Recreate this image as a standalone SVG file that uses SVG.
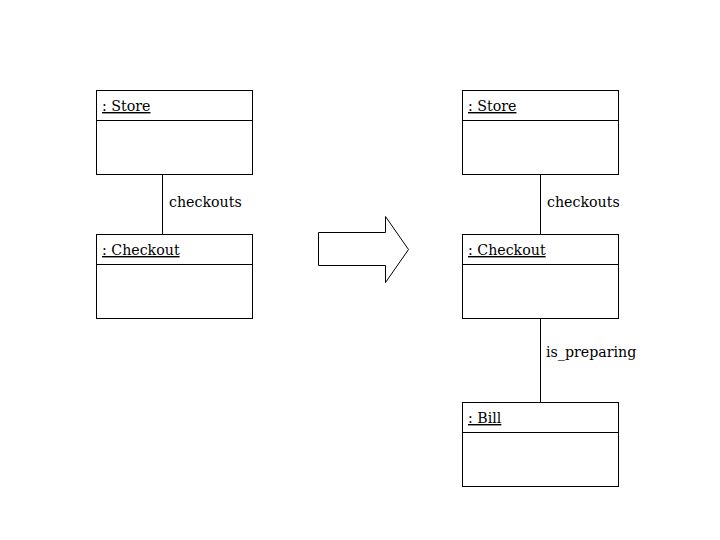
<svg xmlns="http://www.w3.org/2000/svg" width="720" height="540" viewBox="0 0 720 540">
<style>
.box{fill:#fff;stroke:#000;stroke-width:1}
.t{font-family:'DejaVu Serif','Liberation Serif',serif;font-size:14.2px;fill:#000}
.u{text-decoration:underline}
.c{stroke:#000;stroke-width:1;fill:none}
</style>
<rect width="720" height="540" fill="#fff"/>
<g id="connectors">
<line class="c" x1="162.5" y1="174" x2="162.5" y2="234"/>
<line class="c" x1="540.5" y1="174" x2="540.5" y2="234"/>
<line class="c" x1="540.5" y1="318" x2="540.5" y2="402"/>
<text class="t" x="169" y="207">checkouts</text>
<text class="t" x="547" y="207">checkouts</text>
<text class="t" x="546" y="357">is_preparing</text>
</g>
<g id="store1">
<rect class="box" x="96.5" y="90.5" width="156" height="84"/>
<line class="c" x1="96.5" y1="120.5" x2="252.5" y2="120.5"/>
<text class="t u" x="102" y="111">: Store</text>
</g>
<g id="checkout1">
<rect class="box" x="96.5" y="234.5" width="156" height="84"/>
<line class="c" x1="96.5" y1="264.5" x2="252.5" y2="264.5"/>
<text class="t u" x="102" y="255">: Checkout</text>
</g>
<g id="arrow">
<polygon class="box" points="318.5,232.5 385.5,232.5 385.5,216.5 408.5,249.5 385.5,282.5 385.5,265.5 318.5,265.5"/>
</g>
<g id="store2">
<rect class="box" x="462.5" y="90.5" width="156" height="84"/>
<line class="c" x1="462.5" y1="120.5" x2="618.5" y2="120.5"/>
<text class="t u" x="468" y="111">: Store</text>
</g>
<g id="checkout2">
<rect class="box" x="462.5" y="234.5" width="156" height="84"/>
<line class="c" x1="462.5" y1="264.5" x2="618.5" y2="264.5"/>
<text class="t u" x="468" y="255">: Checkout</text>
</g>
<g id="bill">
<rect class="box" x="462.5" y="402.5" width="156" height="84"/>
<line class="c" x1="462.5" y1="432.5" x2="618.5" y2="432.5"/>
<text class="t u" x="468" y="423">: Bill</text>
</g>
</svg>
